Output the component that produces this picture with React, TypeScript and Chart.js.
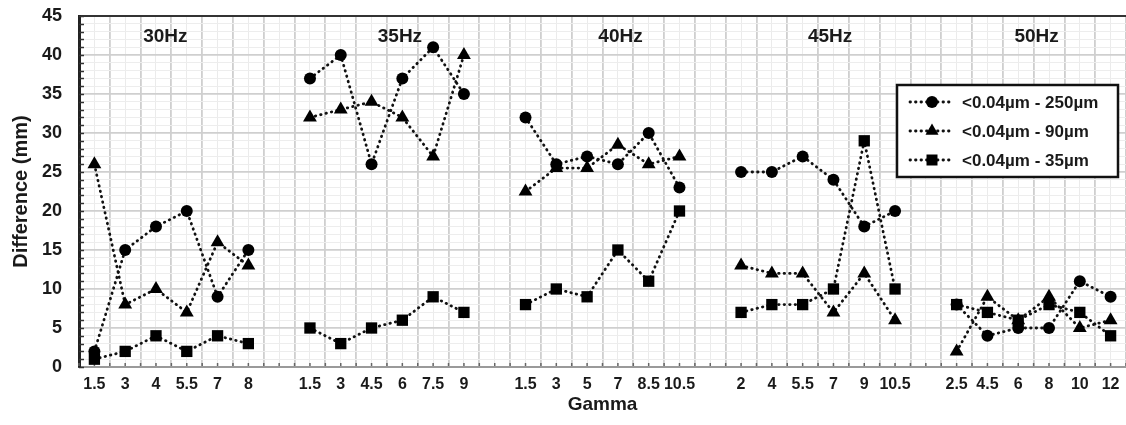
import React, { useEffect, useRef } from 'react';
import { Chart, registerables } from 'chart.js';

Chart.register(...registerables);

// Gamma values per frequency group, with an empty category between groups
const gammaLabels = [
  '1.5', '3', '4', '5.5', '7', '8', '',
  '1.5', '3', '4.5', '6', '7.5', '9', '',
  '1.5', '3', '5', '7', '8.5', '10.5', '',
  '2', '4', '5.5', '7', '9', '10.5', '',
  '2.5', '4.5', '6', '8', '10', '12',
];
const frequencyGroups = ['30Hz', '35Hz', '40Hz', '45Hz', '50Hz'];

const series250 = [
  2, 15, 18, 20, 9, 15, null,
  37, 40, 26, 37, 41, 35, null,
  32, 26, 27, 26, 30, 23, null,
  25, 25, 27, 24, 18, 20, null,
  8, 4, 5, 5, 11, 9,
];
const series90 = [
  26, 8, 10, 7, 16, 13, null,
  32, 33, 34, 32, 27, 40, null,
  22.5, 25.5, 25.5, 28.5, 26, 27, null,
  13, 12, 12, 7, 12, 6, null,
  2, 9, 6, 9, 5, 6,
];
const series35 = [
  1, 2, 4, 2, 4, 3, null,
  5, 3, 5, 6, 9, 7, null,
  8, 10, 9, 15, 11, 20, null,
  7, 8, 8, 10, 29, 10, null,
  8, 7, 6, 8, 7, 4,
];
const seriesNames = ['<0.04µm - 250µm', '<0.04µm - 90µm', '<0.04µm - 35µm'];
const seriesMarkers = ['circle', 'triangle', 'rect'];

const FONT = "'Liberation Sans', Arial, Helvetica, sans-serif";
const INK = '#1a1a1a';
const GROUP_SIZE = 6;
const TITLE_SHIFT = [-6, 13, 18, 12, 3];

function drawMarker(ctx: CanvasRenderingContext2D, style: string, x: number, y: number) {
  ctx.save();
  ctx.fillStyle = '#000';
  ctx.beginPath();
  if (style === 'circle') {
    ctx.arc(x, y, 6, 0, Math.PI * 2);
  } else if (style === 'triangle') {
    const r = 7.5;
    ctx.moveTo(x, y - r);
    ctx.lineTo(x + r * Math.cos(Math.PI / 6), y + r * Math.sin(Math.PI / 6));
    ctx.lineTo(x - r * Math.cos(Math.PI / 6), y + r * Math.sin(Math.PI / 6));
    ctx.closePath();
  } else {
    ctx.rect(x - 5.5, y - 5.5, 11, 11);
  }
  ctx.fill();
  ctx.restore();
}

const decorPlugin = {
  id: 'decor',
  beforeDatasetsDraw(chart: any) {
    const { ctx, chartArea } = chart;
    const y = chart.scales.y;
    const x = chart.scales.x;
    ctx.save();
    // inner ticks on the left axis
    ctx.strokeStyle = '#333';
    ctx.lineWidth = 1.5;
    for (let v = 0; v <= 45; v++) {
      const py = Math.round(y.getPixelForValue(v)) + 0.5;
      ctx.beginPath();
      ctx.moveTo(chartArea.left, py);
      ctx.lineTo(chartArea.left + 5, py);
      ctx.stroke();
    }
    // small ticks on the bottom axis
    ctx.strokeStyle = '#666';
    ctx.lineWidth = 1.5;
    const n = gammaLabels.length;
    const step = (chartArea.right - chartArea.left) / n;
    for (let i = 0; i <= 2 * n; i++) {
      const px = chartArea.left + (i * step) / 2;
      ctx.beginPath();
      ctx.moveTo(px, chartArea.bottom - 1);
      ctx.lineTo(px, chartArea.bottom - 4);
      ctx.stroke();
    }
    // group titles
    ctx.fillStyle = INK;
    ctx.font = `bold 19px ${FONT}`;
    ctx.textAlign = 'center';
    ctx.textBaseline = 'middle';
    frequencyGroups.forEach((g, gi) => {
      const start = gi * (GROUP_SIZE + 1);
      const cx = (x.getPixelForValue(start) + x.getPixelForValue(start + GROUP_SIZE - 1)) / 2 + TITLE_SHIFT[gi];
      ctx.fillText(g, cx, chartArea.top + 21);
    });
    ctx.restore();
  },
  afterDraw(chart: any) {
    const { ctx, chartArea } = chart;
    ctx.save();
    const bx = chartArea.right - 229;
    const by = chartArea.top + 69;
    const bw = 221;
    const bh = 92;
    ctx.fillStyle = '#fff';
    ctx.fillRect(bx, by, bw, bh);
    ctx.strokeStyle = '#111';
    ctx.lineWidth = 2.5;
    ctx.strokeRect(bx, by, bw, bh);
    seriesNames.forEach((name, i) => {
      const ry = by + 17 + i * 29;
      ctx.save();
      ctx.strokeStyle = '#111';
      ctx.lineWidth = 2.8;
      ctx.lineCap = 'round';
      ctx.setLineDash([0.5, 5]);
      ctx.beginPath();
      ctx.moveTo(bx + 13, ry);
      ctx.lineTo(bx + 56, ry);
      ctx.stroke();
      ctx.restore();
      drawMarker(ctx, seriesMarkers[i], bx + 35, ry);
      ctx.fillStyle = INK;
      ctx.font = `bold 17px ${FONT}`;
      ctx.textAlign = 'left';
      ctx.textBaseline = 'middle';
      ctx.fillText(name, bx + 65, ry + 1);
    });
    ctx.restore();
  },
};

export default function App() {
  const ref = useRef<HTMLCanvasElement>(null);

  useEffect(() => {
    document.body.style.margin = '0';
    const canvas = ref.current;
    if (!canvas) return;
    Chart.defaults.font.family = FONT;

    const mk = (label: string, data: (number | null)[], style: string, radius: number) => ({
      label,
      data,
      pointStyle: style,
      pointRadius: radius,
      pointHoverRadius: radius,
      pointBackgroundColor: '#000',
      pointBorderColor: '#000',
      pointBorderWidth: 0,
      borderColor: '#111',
      borderWidth: 2.8,
      borderDash: [0.5, 5],
      borderCapStyle: 'round' as const,
      spanGaps: false,
      tension: 0,
      fill: false,
      clip: false as const,
    });

    const chart = new Chart(canvas, {
      type: 'line',
      data: {
        labels: gammaLabels,
        datasets: [
          mk(seriesNames[0], series250, 'circle', 6),
          mk(seriesNames[1], series90, 'triangle', 8),
          mk(seriesNames[2], series35, 'rect', 8),
        ],
      },
      options: {
        responsive: false,
        animation: false,
        devicePixelRatio: 1,
        layout: { autoPadding: false, padding: { top: 16, right: 0, left: 0, bottom: 0 } },
        plugins: {
          legend: { display: false },
          tooltip: { enabled: false },
        },
        scales: {
          x: {
            type: 'category',
            position: 'bottom',
            offset: true,
            grid: { offset: true, color: '#cfcfcf', lineWidth: 1.8, drawTicks: false },
            border: { color: '#9a9a9a', width: 2 },
            ticks: {
              autoSkip: false,
              maxRotation: 0,
              color: INK,
              padding: 8,
              font: { size: 16, weight: 'bold', family: FONT },
            },
            title: {
              display: true,
              text: 'Gamma',
              color: INK,
              font: { size: 19, weight: 'bold', family: FONT },
              padding: { top: 0, bottom: 9 },
            },
            afterFit: (s: any) => { s.height = 58; s.paddingLeft = 0; s.paddingRight = 0; },
          },
          x2: {
            type: 'category',
            position: 'top',
            offset: true,
            labels: gammaLabels,
            grid: { offset: false, color: '#ebebeb', lineWidth: 1, drawTicks: false },
            border: { color: '#333', width: 2 },
            ticks: { display: false },
            afterFit: (s: any) => { s.height = 0; },
          },
          y: {
            min: 0,
            max: 45,
            grid: {
              drawTicks: false,
              color: (c: any) => (c.tick && c.tick.value % 5 === 0 ? '#cfcfcf' : '#ededed'),
              lineWidth: (c: any) => (c.tick && c.tick.value % 5 === 0 ? 1.8 : 1),
            },
            border: { color: '#222', width: 3 },
            ticks: {
              stepSize: 1,
              autoSkip: false,
              color: INK,
              padding: 17,
              font: { size: 18, weight: 'bold', family: FONT },
              callback: (v: any) => (Number(v) % 5 === 0 ? String(v) : ''),
            },
            title: {
              display: true,
              text: 'Difference (mm)',
              color: INK,
              font: { size: 20, weight: 'bold', family: FONT },
              padding: { top: 9, bottom: 0 },
            },
            afterFit: (s: any) => { s.width = 79; s.paddingTop = 0; s.paddingBottom = 0; },
          },
        },
      },
      plugins: [decorPlugin],
    });

    return () => chart.destroy();
  }, []);

  return (
    <div style={{ width: 1126, height: 425, position: 'relative' }}>
      <canvas ref={ref} width={1126} height={425} style={{ display: 'block' }} />
    </div>
  );
}
